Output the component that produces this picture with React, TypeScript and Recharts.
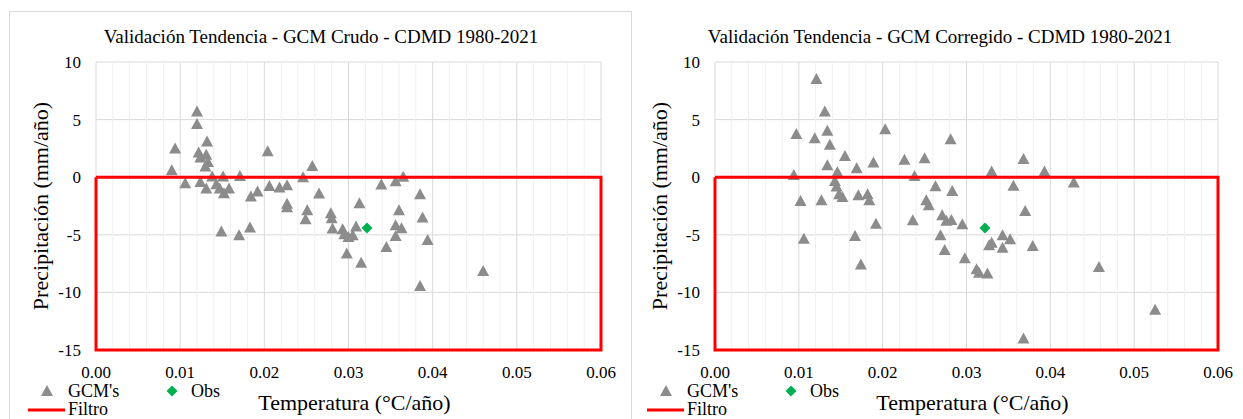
import React from 'react';
import {
  CartesianGrid,
  ReferenceLine,
  Scatter,
  ScatterChart,
  XAxis,
  YAxis,
} from 'recharts';

const FONT = '"Liberation Serif", "Times New Roman", serif';

// GCM crudo [temperatura, precipitación]
const gcmCrudo: [number, number][] = [
  [0.012, 5.71], [0.012, 4.61], [0.0132, 3.1], [0.0094, 2.5], [0.0122, 2.15],
  [0.0131, 1.94], [0.0124, 1.71], [0.0133, 1.33], [0.013, 0.93], [0.0204, 2.26],
  [0.009, 0.61], [0.0106, -0.52], [0.0124, -0.41], [0.0131, -0.98], [0.0138, 0.06],
  [0.0151, 0.06], [0.0143, -0.61], [0.0147, -0.98], [0.0158, -0.98], [0.0152, -1.39],
  [0.0171, 0.11], [0.0184, -1.68], [0.0192, -1.24], [0.0206, -0.76], [0.0218, -0.9],
  [0.0227, -0.7], [0.0227, -2.3], [0.0149, -4.72], [0.017, -5.04], [0.0183, -4.37],
  [0.0257, 0.98], [0.0246, 0.0], [0.0265, -1.42], [0.0227, -2.61], [0.0251, -2.87],
  [0.0249, -3.65], [0.0279, -3.13], [0.028, -3.57], [0.0313, -2.26], [0.0281, -4.46],
  [0.0293, -4.52], [0.0295, -4.96], [0.03, -5.19], [0.0305, -5.04], [0.0309, -4.29],
  [0.0298, -6.63], [0.0315, -7.42], [0.0339, -0.63], [0.0356, -0.35], [0.0365, 0.03],
  [0.0385, -1.48], [0.036, -2.87], [0.0356, -4.17], [0.0363, -4.43], [0.0356, -5.1],
  [0.0388, -3.5], [0.0345, -6.06], [0.0394, -5.45], [0.0385, -9.45], [0.046, -8.15],
];

// GCM corregido
const gcmCorregido: [number, number][] = [
  [0.0121, 8.52], [0.0131, 5.71], [0.0097, 3.74], [0.0119, 3.39], [0.0134, 4.03],
  [0.0137, 2.81], [0.0203, 4.17], [0.0155, 1.85], [0.0134, 1.04], [0.0169, 0.78],
  [0.0189, 1.28], [0.0226, 1.51], [0.0094, 0.2], [0.0146, 0.46], [0.0143, -0.32],
  [0.0145, -0.81], [0.0148, -1.48], [0.0152, -1.71], [0.0171, -1.57], [0.0182, -1.48],
  [0.0184, -2.0], [0.0238, 0.11], [0.0102, -2.06], [0.0127, -2.0], [0.0192, -4.03],
  [0.0236, -3.74], [0.0106, -5.35], [0.0167, -5.1], [0.0174, -7.57],
  [0.0281, 3.3], [0.025, 1.65], [0.033, 0.49], [0.0368, 1.57], [0.0393, 0.49],
  [0.0428, -0.46], [0.0263, -0.78], [0.0283, -1.19], [0.0356, -0.75], [0.0252, -2.0],
  [0.0255, -2.43], [0.037, -2.93], [0.0271, -3.3], [0.0276, -3.77], [0.0282, -3.71],
  [0.0295, -4.09], [0.0269, -5.04], [0.0274, -6.32], [0.0298, -7.04], [0.033, -5.68],
  [0.0327, -5.91], [0.0343, -5.04], [0.0352, -5.39], [0.0343, -6.12], [0.0379, -5.97],
  [0.0315, -8.29], [0.0325, -8.35], [0.0312, -8.0], [0.0458, -7.8], [0.0368, -14.0],
  [0.0525, -11.5],
];

const obs: [number, number][] = [[0.0322, -4.41]];

// rectángulo del filtro
const filtro: [number, number][] = [
  [0, 0], [0.06, 0], [0.06, -15], [0, -15], [0, 0],
];

const xTicks = [0, 0.01, 0.02, 0.03, 0.04, 0.05, 0.06];
const xMinor = [
  0.002, 0.004, 0.006, 0.008, 0.012, 0.014, 0.016, 0.018, 0.022, 0.024, 0.026, 0.028,
  0.032, 0.034, 0.036, 0.038, 0.042, 0.044, 0.046, 0.048, 0.052, 0.054, 0.056, 0.058,
];
const yTicks = [-15, -10, -5, 0, 5, 10];

const toPts = (arr: [number, number][]) => arr.map(([x, y]) => ({ x, y }));

const GRAY = '#8c8c8c';
const GREEN = '#00b050';
const RED = '#ff0000';

const Triangle = (p: any) => {
  const { cx, cy } = p;
  if (cx == null || cy == null) return <g />;
  return <polygon points={`${cx},${cy - 6} ${cx - 6},${cy + 5} ${cx + 6},${cy + 5}`} fill={GRAY} />;
};

const Diamond = (p: any) => {
  const { cx, cy } = p;
  if (cx == null || cy == null) return <g />;
  return <polygon points={`${cx},${cy - 5.5} ${cx + 5.5},${cy} ${cx},${cy + 5.5} ${cx - 5.5},${cy}`} fill={GREEN} />;
};

const NoDot = () => <g />;

function Panel({ title, data, left, plotW }: { title: string; data: [number, number][]; left: number; plotW: number }) {
  const width = 96 + plotW + 19;
  const tickStyle = { fill: '#000', fontSize: 17, fontFamily: FONT };
  return (
    <div style={{ position: 'absolute', left, top: 0, width, height: 419 }}>
      <div
        style={{
          position: 'absolute', left: 321 - 250, top: 26, width: 500, textAlign: 'center',
          fontSize: 19, fontFamily: FONT, color: '#000', lineHeight: '22px',
        }}
      >
        {title}
      </div>
      <ScatterChart width={width} height={419} margin={{ top: 62, right: 19, bottom: 39, left: 0 }}>
        <CartesianGrid stroke="#d9d9d9" />
        {xMinor.map((v) => (
          <ReferenceLine key={v} x={v} stroke="#efefef" />
        ))}
        <XAxis
          type="number"
          dataKey="x"
          domain={[0, 0.06]}
          ticks={xTicks}
          tickFormatter={(v: number) => v.toFixed(2)}
          axisLine={false}
          tickLine={false}
          tickSize={0}
          tickMargin={16}
          height={30}
          tick={tickStyle}
          interval={0}
          label={{
            value: 'Temperatura (°C/año)', position: 'center', dy: 37, dx: 6,
            style: { fill: '#000', fontSize: 22, fontFamily: FONT },
          }}
        />
        <YAxis
          type="number"
          dataKey="y"
          domain={[-15, 10]}
          ticks={yTicks}
          axisLine={false}
          tickLine={false}
          tickSize={0}
          tickMargin={15}
          width={96}
          tick={tickStyle}
          interval={0}
          label={{
            value: 'Precipitación (mm/año)', angle: -90, position: 'center', dx: -8,
            style: { fill: '#000', fontSize: 22, fontFamily: FONT, textAnchor: 'middle' },
          }}
        />
        <Scatter name="GCM's" data={toPts(data)} shape={Triangle} isAnimationActive={false} />
        <Scatter name="Obs" data={toPts(obs)} shape={Diamond} isAnimationActive={false} />
        <Scatter
          name="Filtro"
          data={toPts(filtro)}
          line={{ stroke: RED, strokeWidth: 3 }}
          shape={NoDot}
          isAnimationActive={false}
        />
      </ScatterChart>
      {/* leyenda */}
      <svg style={{ position: 'absolute', left: 0, top: 380 }} width={200} height={39}>
        <polygon points="47,5 41,16 53,16" fill={GRAY} />
        <polygon points="172,5.5 177.5,11 172,16.5 166.5,11" fill={GREEN} />
        <line x1={28} x2={65} y1={30} y2={30} stroke={RED} strokeWidth={3} />
      </svg>
      <div style={{ position: 'absolute', left: 68, top: 380, fontSize: 18, fontFamily: FONT, lineHeight: '22px' }}>GCM's</div>
      <div style={{ position: 'absolute', left: 191, top: 380, fontSize: 18, fontFamily: FONT, lineHeight: '22px' }}>Obs</div>
      <div style={{ position: 'absolute', left: 68, top: 398, fontSize: 18, fontFamily: FONT, lineHeight: '22px' }}>Filtro</div>
    </div>
  );
}

export default function App() {
  return (
    <div style={{ position: 'absolute', left: 0, top: 0, width: 1243, height: 419, background: '#fff', overflow: 'hidden' }}>
      <div style={{ position: 'absolute', left: 9, top: 11, width: 623, height: 420, border: '1px solid #d9d9d9', boxSizing: 'border-box' }} />
      <Panel title="Validación Tendencia - GCM Crudo - CDMD 1980-2021" data={gcmCrudo} left={0} plotW={505} />
      <Panel title="Validación Tendencia - GCM Corregido - CDMD 1980-2021" data={gcmCorregido} left={619} plotW={503} />
    </div>
  );
}
